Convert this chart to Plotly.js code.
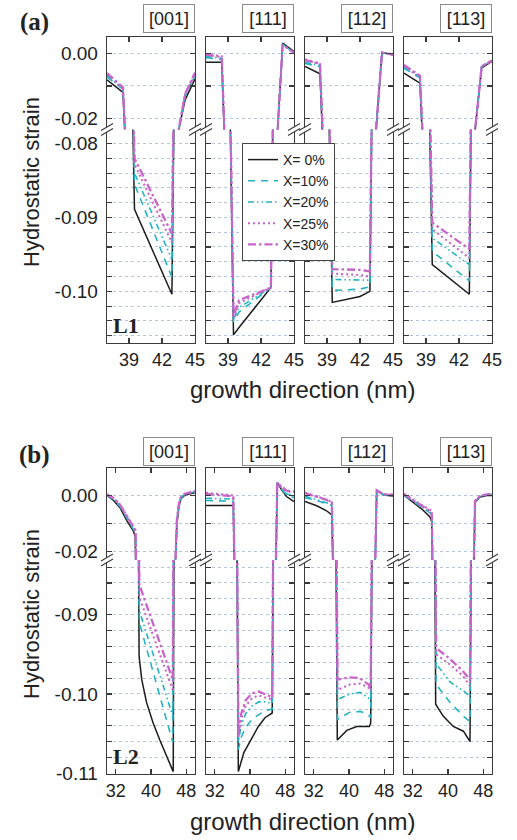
<!DOCTYPE html>
<html><head><meta charset="utf-8">
<script src="https://cdn.plot.ly/plotly-3.0.1.min.js"></script>
<style>html,body{margin:0;padding:0;background:#fff;} #chart{width:517px;height:840px;}</style>
</head><body><div id="chart"></div>
<script>
// ---------- labels ----------
const seriesNames = ['X= 0%', 'X=10%', 'X=20%', 'X=25%', 'X=30%'];
const directions = ['[001]', '[111]', '[112]', '[113]'];
const rowLabels = ['(a)', '(b)'];
const layerLabels = ['L1', 'L2'];
const yTitle = 'Hydrostatic strain';
const xTitle = 'growth direction (nm)';
const xTicksA = [39, 42, 45];
const xTicksB = [32, 40, 48];
const yTicksUpper = [0, -0.01, -0.02];
const yLabelsUpper = ['0.00', '', '-0.02'];
const yTicksLowerA = [-0.08, -0.082, -0.084, -0.086, -0.088, -0.09, -0.092, -0.094, -0.096, -0.098, -0.10, -0.102, -0.104, -0.106];
const yLabelsLowerA = ['-0.08', '', '', '', '', '-0.09', '', '', '', '', '-0.10', '', '', ''];
const yTicksLowerB = [-0.084, -0.086, -0.088, -0.09, -0.092, -0.094, -0.096, -0.098, -0.10, -0.102, -0.104, -0.106, -0.108, -0.11];
const yLabelsLowerB = ['', '', '', '-0.09', '', '', '', '', '-0.10', '', '', '', '', '-0.11'];

// ---------- data: row (a), layer L1 ----------
const a001X = [37, 38.45, 39.5, 42.9, 43.5, 44.1, 45];
const a001Y = [
  [-0.0081, -0.0120, -0.0889, -0.1004, -0.0240, -0.0143, -0.0078],
  [-0.0072, -0.0110, -0.0855, -0.0981, -0.0240, -0.0132, -0.0072],
  [-0.0068, -0.0108, -0.0840, -0.0957, -0.0240, -0.0128, -0.0068],
  [-0.0064, -0.0106, -0.0828, -0.0934, -0.0240, -0.0126, -0.0063],
  [-0.0060, -0.0104, -0.0820, -0.0922, -0.0240, -0.0124, -0.0058]];
const a111X = [37, 38.43, 39.5, 40.0, 42.9, 43.5, 43.97, 45];
const a111Y = [
  [-0.0026, -0.0026, -0.1059, -0.1049, -0.0995, -0.0240, 0.0033, 0.0007],
  [-0.0012, -0.0018, -0.1042, -0.1028, -0.0995, -0.0240, 0.0030, 0.0004],
  [-0.0008, -0.0014, -0.1038, -0.1022, -0.0995, -0.0240, 0.0029, 0.0004],
  [0.0000, -0.0008, -0.1035, -0.1016, -0.0995, -0.0240, 0.0028, 0.0003],
  [-0.0003, -0.0010, -0.1033, -0.1012, -0.0995, -0.0240, 0.0028, 0.0003]];
const a112X = [37, 38.36, 39.48, 42.0, 42.9, 43.45, 44.0, 45];
const a112Y = [
  [-0.0039, -0.0062, -0.1015, -0.1007, -0.1000, -0.0240, 0.0004, -0.0003],
  [-0.0030, -0.0040, -0.0999, -0.0997, -0.0994, -0.0240, 0.0003, -0.0003],
  [-0.0027, -0.0036, -0.0984, -0.0984, -0.0985, -0.0240, 0.0003, -0.0003],
  [-0.0017, -0.0032, -0.0976, -0.0978, -0.0980, -0.0240, 0.0003, -0.0003],
  [-0.0020, -0.0030, -0.0970, -0.0971, -0.0973, -0.0240, 0.0003, -0.0003]];
const a113X = [37, 38.45, 39.57, 42.94, 43.45, 44.06, 45];
const a113Y = [
  [-0.0060, -0.0091, -0.0964, -0.1004, -0.0240, -0.0044, -0.0024],
  [-0.0045, -0.0075, -0.0946, -0.0986, -0.0240, -0.0040, -0.0022],
  [-0.0042, -0.0072, -0.0928, -0.0964, -0.0240, -0.0040, -0.0022],
  [-0.0038, -0.0070, -0.0916, -0.0955, -0.0240, -0.0039, -0.0021],
  [-0.0035, -0.0068, -0.0907, -0.0943, -0.0240, -0.0039, -0.0021]];

// ---------- data: row (b), layer L2 ----------
const b001X0 = [30, 31.5, 33, 34.5, 36, 36.4, 37.3, 37.9, 39.0, 40.5, 42.0, 43.6, 45.05, 45.55, 45.9, 46.36, 46.8, 47.7, 50];
const b001Y0 = [-0.0001, -0.0018, -0.0045, -0.0090, -0.0128, -0.0145, -0.0953, -0.0982, -0.1011, -0.1037, -0.1058, -0.1079, -0.1098, -0.0235, -0.0100, -0.0040, -0.0012, 0.0001, 0.0010];
const b001Xc = [30, 31.5, 33, 34.5, 36, 36.5, 37.35, 44.95, 45.55, 45.9, 46.36, 46.8, 47.7, 50];
const b001Yc = [
  [0.0000, -0.0015, -0.0040, -0.0080, -0.0118, -0.0135, -0.0910, -0.1061, -0.0235, -0.0088, -0.0032, -0.0008, 0.0004, 0.0013],
  [0.0001, -0.0013, -0.0037, -0.0076, -0.0113, -0.0130, -0.0895, -0.1028, -0.0235, -0.0086, -0.0031, -0.0007, 0.0005, 0.0014],
  [0.0004, -0.0010, -0.0033, -0.0072, -0.0108, -0.0125, -0.0878, -0.0995, -0.0235, -0.0085, -0.0030, -0.0006, 0.0006, 0.0015],
  [0.0003, -0.0010, -0.0034, -0.0073, -0.0110, -0.0127, -0.0862, -0.0982, -0.0235, -0.0085, -0.0030, -0.0006, 0.0006, 0.0015]];

const b111X0 = [30, 36.2, 37.35, 38.6, 40.4, 41.9, 43.4, 45.05, 46.2, 47.2, 48.3, 50];
const b111Y0 = [-0.0036, -0.0036, -0.1098, -0.1074, -0.1056, -0.1041, -0.1030, -0.1024, 0.0046, 0.0020, -0.0004, -0.0022];
const b111Xc = [30, 36.2, 37.35, 38.0, 39.0, 40.5, 42.0, 43.5, 45.05, 46.2, 47.2, 48.3, 50];
const b111Yc = [
  [-0.0018, -0.0021, -0.1070, -0.1055, -0.1042, -0.1032, -0.1026, -0.1021, -0.1019, 0.0045, 0.0022, 0.0002, -0.0008],
  [-0.0010, -0.0013, -0.1060, -0.1040, -0.1025, -0.1015, -0.1010, -0.1010, -0.1012, 0.0045, 0.0024, 0.0006, -0.0003],
  [0.0009, 0.0000, -0.1055, -0.1032, -0.1015, -0.1005, -0.1002, -0.1004, -0.1007, 0.0045, 0.0028, 0.0015, 0.0012],
  [0.0005, -0.0003, -0.1050, -0.1025, -0.1008, -0.0999, -0.0997, -0.1000, -0.1004, 0.0045, 0.0030, 0.0017, 0.0014]];

const b112X0 = [30, 32.65, 34.9, 36.1, 37.34, 39.5, 41.75, 44.6, 44.93, 46.3, 47.8, 50];
const b112Y0 = [-0.0022, -0.0037, -0.0055, -0.0070, -0.1058, -0.1046, -0.1041, -0.1041, -0.1037, 0.0019, 0.0001, -0.0002];
const b112Xc = [30, 32.65, 34.9, 36.1, 37.4, 40.2, 42.5, 44.4, 44.93, 46.3, 47.8, 50];
const b112Yc = [
  [-0.0008, -0.0018, -0.0030, -0.0036, -0.1032, -0.1023, -0.1022, -0.1026, -0.1030, 0.0018, 0.0002, 0.0000],
  [-0.0003, -0.0015, -0.0027, -0.0032, -0.1007, -0.1000, -0.0998, -0.1005, -0.1008, 0.0018, 0.0003, 0.0001],
  [0.0010, -0.0003, -0.0015, -0.0024, -0.0995, -0.0988, -0.0987, -0.0992, -0.0996, 0.0018, 0.0004, 0.0003],
  [0.0008, -0.0005, -0.0016, -0.0025, -0.0982, -0.0979, -0.0980, -0.0988, -0.0992, 0.0018, 0.0004, 0.0003]];

const b113X0 = [30, 32.1, 34.0, 35.9, 36.3, 37.2, 38.9, 41.2, 43.5, 45.0, 46.14, 47.3, 48.8, 50];
const b113Y0 = [0.0000, -0.0024, -0.0048, -0.0077, -0.0095, -0.1013, -0.1028, -0.1041, -0.1047, -0.1060, -0.0024, -0.0006, 0.0000, 0.0000];
const b113Xc = [30, 32.1, 34.0, 35.9, 36.3, 37.3, 40.5, 43.5, 45.0, 46.14, 47.3, 48.8, 50];
const b113Yc = [
  [0.0000, -0.0022, -0.0042, -0.0062, -0.0070, -0.0988, -0.1011, -0.1028, -0.1035, -0.0022, -0.0004, 0.0002, 0.0002],
  [0.0002, -0.0020, -0.0039, -0.0058, -0.0066, -0.0962, -0.0985, -0.0996, -0.1003, -0.0021, -0.0003, 0.0003, 0.0003],
  [0.0006, -0.0016, -0.0034, -0.0051, -0.0058, -0.0950, -0.0963, -0.0978, -0.0990, -0.0020, -0.0002, 0.0004, 0.0004],
  [0.0004, -0.0017, -0.0035, -0.0053, -0.0060, -0.0942, -0.0956, -0.0972, -0.0982, -0.0020, -0.0002, 0.0004, 0.0004]];

// ---------- styles ----------
const seriesColors = ['#1c1c1c', '#25b3c1', '#25b3c1', '#c865c9', '#c865c9'];
const seriesDash = ['solid', '7px,6px', '6px,3px,1.5px,3px,1.5px,3px', '2px,3px', '8px,3px,2.5px,3px'];
const seriesWidth = [1.5, 1.6, 1.6, 2.1, 2.3];
const SANS = '"Liberation Sans", Arial, Helvetica, sans-serif';
const SERIF = '"Liberation Serif", "Times New Roman", "DejaVu Serif", serif';
const INK = '#222';
const AXIS = '#3a3a3a';

// ---------- geometry (pixels) ----------
const W = 517, H = 840;
const colLeft = [107, 206, 305, 404], colWidth = 88;
const rowsPx = [
  {top: 37, brk: 129.5, bot: 343, boxTop: 4, rowLab: 22, layLab: 326, yTit: 182, xTit: 389},
  {top: 468, brk: 560, bot: 774, boxTop: 437, rowLab: 455, layLab: 756, yTit: 614, xTit: 821}];
const xRanges = [[37, 45], [30, 50]];
const yUpperRanges = [[-0.0235, 0.0052], [-0.0231, 0.0098]];
const yLowerRanges = [[-0.1070, -0.0781], [-0.1101, -0.0831]];

function seriesFor(r, p) {
  if (r === 0) {
    const X = [a001X, a111X, a112X, a113X][p];
    const Y = [a001Y, a111Y, a112Y, a113Y][p];
    return Y.map(y => ({x: X, y: y}));
  }
  const X0 = [b001X0, b111X0, b112X0, b113X0][p];
  const Y0 = [b001Y0, b111Y0, b112Y0, b113Y0][p];
  const Xc = [b001Xc, b111Xc, b112Xc, b113Xc][p];
  const Yc = [b001Yc, b111Yc, b112Yc, b113Yc][p];
  return [{x: X0, y: Y0}].concat(Yc.map(y => ({x: Xc, y: y})));
}

const px2x = v => v / W;
const px2y = v => 1 - v / H;
const axName = (c, i) => (i === 1 ? c : c + i);
const axKey = (c, i) => (i === 1 ? c + 'axis' : c + 'axis' + i);

const layout = {
  width: W, height: H,
  margin: {l: 0, r: 0, t: 0, b: 0},
  paper_bgcolor: '#ffffff', plot_bgcolor: 'rgba(0,0,0,0)',
  font: {family: SANS, color: INK},
  showlegend: true,
  legend: {
    x: px2x(242), y: px2y(143), xanchor: 'left', yanchor: 'top',
    bgcolor: '#ffffff', bordercolor: '#444', borderwidth: 1,
    font: {family: SANS, size: 14, color: INK},
    tracegroupgap: 0, itemwidth: 30, traceorder: 'normal'
  },
  annotations: [], shapes: []
};
const traces = [];

let n = 1;
for (let r = 0; r < 2; r++) {
  const rp = rowsPx[r];
  const xt = r === 0 ? xTicksA : xTicksB;
  const ytL = r === 0 ? yTicksLowerA : yTicksLowerB;
  const ylL = r === 0 ? yLabelsLowerA : yLabelsLowerB;
  for (let p = 0; p < 4; p++) {
    const iL = n, iU = n + 1; n += 2;
    const xd = [px2x(colLeft[p]), px2x(colLeft[p] + colWidth)];
    const yDomL = [px2y(rp.bot), px2y(rp.brk)];
    const yDomU = [px2y(rp.brk), px2y(rp.top)];
    const common = {
      ticks: 'inside', ticklen: 5, tickwidth: 1.1, tickcolor: AXIS,
      showline: true, linecolor: AXIS, linewidth: 1.3,
      zeroline: false, fixedrange: true,
      tickfont: {family: SANS, size: 18, color: INK}
    };
    layout[axKey('x', iL)] = Object.assign({}, common, {
      domain: xd, range: xRanges[r], anchor: axName('y', iL), side: 'bottom',
      tickmode: 'array', tickvals: xt, ticktext: xt.map(String),
      showgrid: false, mirror: false, showticklabels: true, ticklabelstandoff: 0
    });
    layout[axKey('x', iU)] = Object.assign({}, common, {
      domain: xd, range: xRanges[r], anchor: axName('y', iU), side: 'top',
      tickmode: 'array', tickvals: xt, showgrid: false, mirror: false, showticklabels: false
    });
    const gridStyle = {showgrid: true, gridcolor: '#b3c6db', griddash: 'dot', gridwidth: 1};
    layout[axKey('y', iL)] = Object.assign({}, common, gridStyle, {
      domain: yDomL, range: yLowerRanges[r], anchor: axName('x', iL), side: 'left',
      tickmode: 'array', tickvals: ytL, ticktext: ylL,
      mirror: 'ticks', showticklabels: p === 0, ticklabelstandoff: 4,
      tickfont: {family: SANS, size: 19, color: INK}
    });
    layout[axKey('y', iU)] = Object.assign({}, common, gridStyle, {
      domain: yDomU, range: yUpperRanges[r], anchor: axName('x', iU), side: 'left',
      tickmode: 'array', tickvals: yTicksUpper, ticktext: yLabelsUpper,
      mirror: 'ticks', showticklabels: p === 0, ticklabelstandoff: 4,
      tickfont: {family: SANS, size: 19, color: INK}
    });

    const ser = seriesFor(r, p);
    for (let s = 0; s < 5; s++) {
      [iL, iU].forEach(i => {
        traces.push({
          type: 'scatter', mode: 'lines',
          x: ser[s].x, y: ser[s].y,
          xaxis: axName('x', i), yaxis: axName('y', i),
          name: seriesNames[s], legendgroup: 'g' + s,
          showlegend: (r === 0 && p === 0 && i === iL),
          line: {color: seriesColors[s], dash: seriesDash[s], width: seriesWidth[s]},
          hoverinfo: 'skip'
        });
      });
    }

    layout.annotations.push({
      xref: 'paper', yref: 'paper', x: px2x(colLeft[p] + colWidth), y: px2y(rp.boxTop),
      xanchor: 'right', yanchor: 'top', showarrow: false,
      text: directions[p], font: {family: SANS, size: 18, color: INK},
      bordercolor: '#8a8a8a', borderwidth: 1, borderpad: 3, bgcolor: '#ffffff',
      width: 44, height: 21
    });

    [colLeft[p], colLeft[p] + colWidth].forEach(bx => {
      const by = rp.brk;
      layout.shapes.push({
        type: 'rect', xref: 'paper', yref: 'paper', layer: 'above',
        x0: px2x(bx - 1.6), x1: px2x(bx + 1.6), y0: px2y(by - 2.4), y1: px2y(by + 2.4),
        fillcolor: '#ffffff', line: {width: 0}
      });
      [-2.6, 2.6].forEach(off => {
        layout.shapes.push({
          type: 'line', xref: 'paper', yref: 'paper', layer: 'above',
          x0: px2x(bx - 6), y0: px2y(by + off + 3.5), x1: px2x(bx + 6), y1: px2y(by + off - 3.5),
          line: {color: AXIS, width: 1.1}
        });
      });
    });
  }

  layout.annotations.push({
    xref: 'paper', yref: 'paper', x: px2x(34), y: px2y(rp.rowLab),
    xanchor: 'center', yanchor: 'middle', showarrow: false,
    text: '<b>' + rowLabels[r] + '</b>', font: {family: SERIF, size: 25, color: INK}
  });
  layout.annotations.push({
    xref: 'paper', yref: 'paper', x: px2x(126), y: px2y(rp.layLab),
    xanchor: 'center', yanchor: 'middle', showarrow: false,
    text: '<b>' + layerLabels[r] + '</b>', font: {family: SERIF, size: 22, color: INK}
  });
  layout.annotations.push({
    xref: 'paper', yref: 'paper', x: px2x(31), y: px2y(rp.yTit),
    xanchor: 'center', yanchor: 'middle', showarrow: false, textangle: -90,
    text: yTitle, font: {family: SANS, size: 22, color: INK}
  });
  layout.annotations.push({
    xref: 'paper', yref: 'paper', x: px2x(302), y: px2y(rp.xTit),
    xanchor: 'center', yanchor: 'middle', showarrow: false,
    text: xTitle, font: {family: SANS, size: 24, color: INK}
  });
}

Plotly.newPlot('chart', traces, layout, {displayModeBar: false, staticPlot: true});
</script>
</body></html>
